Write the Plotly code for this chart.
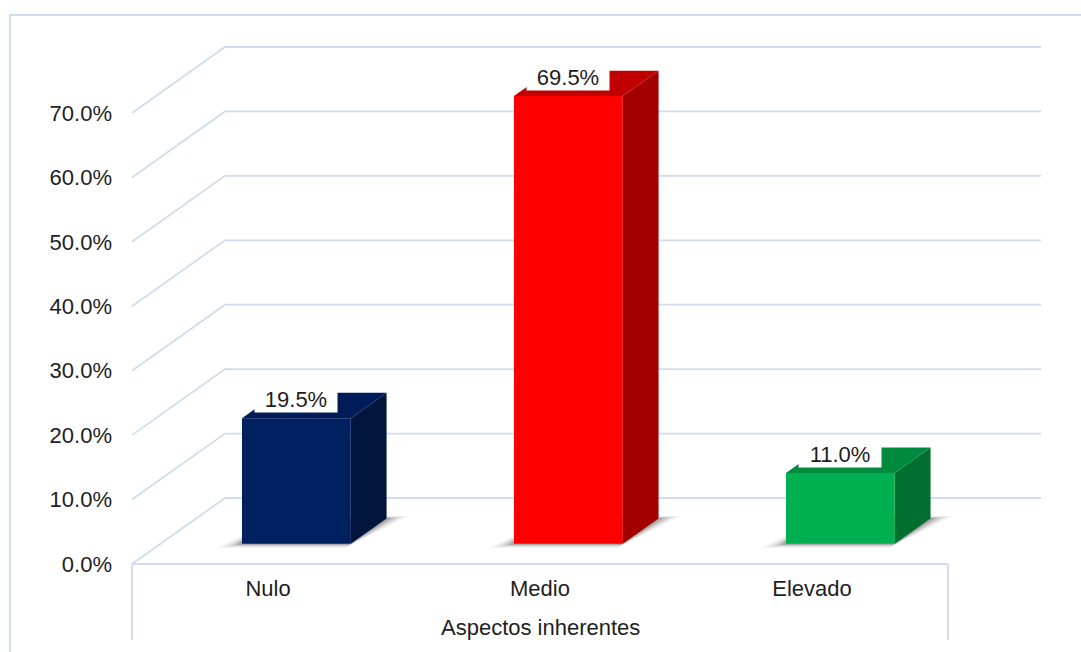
import plotly.graph_objects as go

# ---- data -------------------------------------------------------------
categories = ["Nulo", "Medio", "Elevado"]
percentages = [19.5, 69.5, 11.0]
front_colors = ["#002060", "#FF0000", "#00B050"]
top_colors = ["#001C58", "#C00000", "#008A3E"]
side_colors = ["#00163F", "#A30000", "#006F2F"]
tick_values = [0, 10, 20, 30, 40, 50, 60, 70]
axis_title = "Aspectos inherentes"

# ---- geometry of the oblique 3-D projection -----------------------------
W, H = 1081, 652
X0_PX = 132            # front-left corner of the floor
Y0_PX = 564            # front edge of the floor (0 %)
CAT_PX = 272           # width of one category slot
PCT_PX = 6.443         # pixels per percentage point
DEPTH_DX, DEPTH_DY = 93, 66   # full depth offset of the back wall

KX = DEPTH_DX / CAT_PX        # depth offset in category units
KY = DEPTH_DY / PCT_PX        # depth offset in percent units
D_FRONT, D_BACK = 0.305, 0.69  # bar front / back planes (0..1 of depth)
HALF_W = 0.2                   # half bar width (category units)
N = len(categories)

GRID_COLOR = "#CFDCF0"
FONT = "Liberation Sans, Arial, sans-serif"
FONT_SIZE = 22
TEXT_COLOR = "#1E1E1E"


def proj(u, v, d):
    """Project (category, percent, depth) onto the 2-D axes."""
    return u + KX * d, v + KY * d


fig = go.Figure()

# ---- walls: gridlines on the back wall with their floor diagonals --------
gx, gy = [], []
for t in tick_values:
    for u, v, d in [(0, t, 0), (0, t, 1), (N, t, 1)]:
        px, py = proj(u, v, d)
        gx.append(px)
        gy.append(py)
    gx.append(None)
    gy.append(None)
# front edge of the floor and the category box below it
box_bottom = -11.8
for xs, ys in [([0, N], [0, 0]), ([0, 0], [0, box_bottom]), ([N, N], [0, box_bottom])]:
    gx += xs + [None]
    gy += ys + [None]
fig.add_trace(go.Scatter(x=gx, y=gy, mode="lines",
                         line=dict(color=GRID_COLOR, width=1.8),
                         hoverinfo="skip", showlegend=False))


def poly(points, color, opacity=1.0):
    xs = [p[0] for p in points] + [points[0][0]]
    ys = [p[1] for p in points] + [points[0][1]]
    fig.add_trace(go.Scatter(
        x=xs, y=ys, mode="lines", fill="toself", fillcolor=color,
        line=dict(color=color, width=0),
        opacity=opacity, hoverinfo="skip", showlegend=False))


# ---- soft floor shadows ---------------------------------------------------
for i, val in enumerate(percentages):
    c = i + 0.5
    for grow, alpha in [(0.07, 0.06), (0.05, 0.09), (0.032, 0.13), (0.016, 0.18)]:
        pts = [proj(c - HALF_W - grow, 0, D_FRONT - 0.06 * grow / 0.07),
               proj(c + HALF_W, 0, D_FRONT - 0.06 * grow / 0.07),
               proj(c + HALF_W + grow, 0, D_BACK + grow * 0.6),
               proj(c - HALF_W, 0, D_BACK)]
        poly(pts, f"rgba(30,30,30,{alpha})")

# ---- 3-D bars ---------------------------------------------------------------
for i, val in enumerate(percentages):
    c = i + 0.5
    l, r = c - HALF_W, c + HALF_W
    front = [proj(l, 0, D_FRONT), proj(r, 0, D_FRONT),
             proj(r, val, D_FRONT), proj(l, val, D_FRONT)]
    side = [proj(r, 0, D_FRONT), proj(r, 0, D_BACK),
            proj(r, val, D_BACK), proj(r, val, D_FRONT)]
    top = [proj(l, val, D_FRONT), proj(r, val, D_FRONT),
           proj(r, val, D_BACK), proj(l, val, D_BACK)]
    poly(side, side_colors[i])
    poly(top, top_colors[i])
    poly(front, front_colors[i])

# ---- value labels -----------------------------------------------------------
for i, val in enumerate(percentages):
    lx, ly = proj(i + 0.5, val, D_FRONT)
    fig.add_annotation(x=lx, y=ly + 3.0, text=f"{val:.1f}%", showarrow=False,
                       bgcolor="white", width=82, height=26, borderpad=0,
                       font=dict(family=FONT, size=FONT_SIZE, color=TEXT_COLOR))

# ---- axis title -------------------------------------------------------------
fig.add_annotation(x=N / 2, y=-9.9, text=axis_title, showarrow=False,
                   font=dict(family=FONT, size=FONT_SIZE, color=TEXT_COLOR))

# ---- chart area border --------------------------------------------------------
fig.add_shape(type="path", xref="paper", yref="paper",
              path=f"M {10 / W},0 L {10 / W},{(H - 15) / H} L 1,{(H - 15) / H}",
              line=dict(color=GRID_COLOR, width=2))

fig.update_layout(
    width=W, height=H,
    margin=dict(l=0, r=0, t=0, b=0, pad=0),
    paper_bgcolor="white", plot_bgcolor="white",
    showlegend=False,
    font=dict(family=FONT, size=FONT_SIZE, color=TEXT_COLOR),
    xaxis=dict(range=[-X0_PX / CAT_PX, (W - X0_PX) / CAT_PX],
               anchor="free", position=(H - Y0_PX) / H,
               tickvals=[i + 0.5 for i in range(N)], ticktext=categories,
               ticks="", ticklabelstandoff=9,
               showgrid=False, zeroline=False, showline=False, fixedrange=True),
    yaxis=dict(range=[-(H - Y0_PX) / PCT_PX, Y0_PX / PCT_PX],
               anchor="free", position=X0_PX / W,
               tickvals=tick_values, ticktext=[f"{t:.1f}%" for t in tick_values],
               ticks="", ticklabelstandoff=20,
               showgrid=False, zeroline=False, showline=False, fixedrange=True),
)

fig.write_html("out.html")
